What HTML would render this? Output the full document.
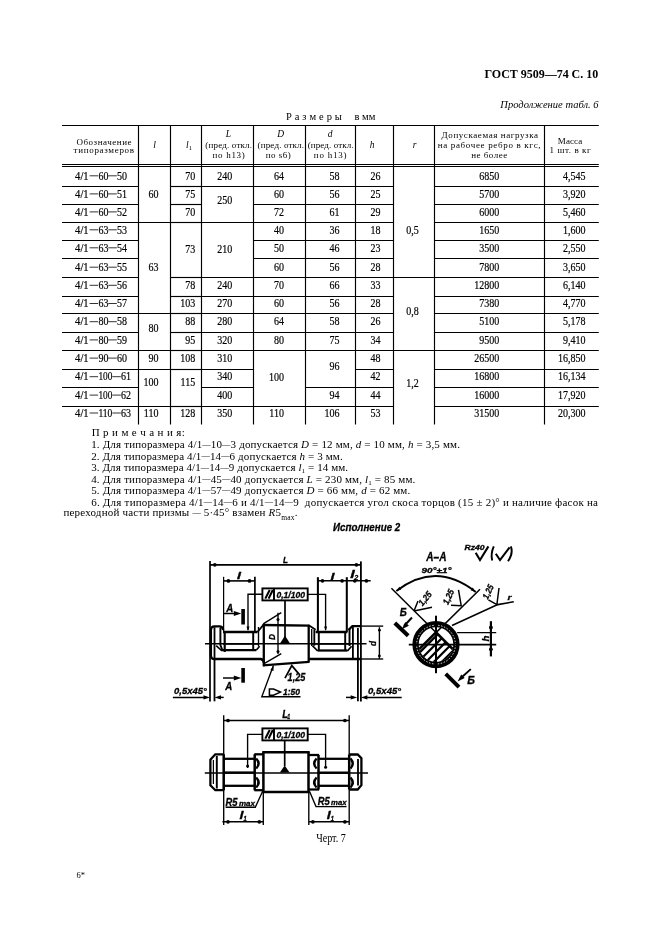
<!DOCTYPE html>
<html><head><meta charset="utf-8"><style>
html,body{margin:0;padding:0;background:#fff;}
svg{display:block;will-change:transform;}
text{font-family:"Liberation Serif", serif;fill:#000;} text.b{stroke:#000;stroke-width:0.2px;} text.n{stroke:none;} text.d{font-family:"Liberation Sans", sans-serif;font-weight:bold;font-style:italic;stroke:#000;stroke-width:0.3px;}
</style></head><body>
<svg width="661" height="936" viewBox="0 0 661 936">
<g stroke="#000" stroke-width="1.15" fill="none"><line x1="62" y1="125.5" x2="598.8" y2="125.5"/><line x1="62" y1="164.5" x2="598.8" y2="164.5"/><line x1="62" y1="166.5" x2="598.8" y2="166.5"/><line x1="138.5" y1="125.5" x2="138.5" y2="424.6"/><line x1="170.5" y1="125.5" x2="170.5" y2="424.6"/><line x1="201.5" y1="125.5" x2="201.5" y2="424.6"/><line x1="253.5" y1="125.5" x2="253.5" y2="424.6"/><line x1="305.5" y1="125.5" x2="305.5" y2="424.6"/><line x1="355.5" y1="125.5" x2="355.5" y2="424.6"/><line x1="393.5" y1="125.5" x2="393.5" y2="424.6"/><line x1="434.5" y1="125.5" x2="434.5" y2="424.6"/><line x1="544.5" y1="125.5" x2="544.5" y2="424.6"/><line x1="62" y1="186.5" x2="138.7" y2="186.5"/><line x1="62" y1="204.5" x2="138.7" y2="204.5"/><line x1="62" y1="222.5" x2="138.7" y2="222.5"/><line x1="62" y1="240.5" x2="138.7" y2="240.5"/><line x1="62" y1="258.5" x2="138.7" y2="258.5"/><line x1="62" y1="277.5" x2="138.7" y2="277.5"/><line x1="62" y1="296.5" x2="138.7" y2="296.5"/><line x1="62" y1="313.5" x2="138.7" y2="313.5"/><line x1="62" y1="332.5" x2="138.7" y2="332.5"/><line x1="62" y1="350.5" x2="138.7" y2="350.5"/><line x1="62" y1="369.5" x2="138.7" y2="369.5"/><line x1="62" y1="387.5" x2="138.7" y2="387.5"/><line x1="62" y1="406.5" x2="138.7" y2="406.5"/><line x1="355.9" y1="186.5" x2="393.6" y2="186.5"/><line x1="355.9" y1="204.5" x2="393.6" y2="204.5"/><line x1="355.9" y1="222.5" x2="393.6" y2="222.5"/><line x1="355.9" y1="240.5" x2="393.6" y2="240.5"/><line x1="355.9" y1="258.5" x2="393.6" y2="258.5"/><line x1="355.9" y1="277.5" x2="393.6" y2="277.5"/><line x1="355.9" y1="296.5" x2="393.6" y2="296.5"/><line x1="355.9" y1="313.5" x2="393.6" y2="313.5"/><line x1="355.9" y1="332.5" x2="393.6" y2="332.5"/><line x1="355.9" y1="350.5" x2="393.6" y2="350.5"/><line x1="355.9" y1="369.5" x2="393.6" y2="369.5"/><line x1="355.9" y1="387.5" x2="393.6" y2="387.5"/><line x1="355.9" y1="406.5" x2="393.6" y2="406.5"/><line x1="434.6" y1="186.5" x2="544.4" y2="186.5"/><line x1="434.6" y1="204.5" x2="544.4" y2="204.5"/><line x1="434.6" y1="222.5" x2="544.4" y2="222.5"/><line x1="434.6" y1="240.5" x2="544.4" y2="240.5"/><line x1="434.6" y1="258.5" x2="544.4" y2="258.5"/><line x1="434.6" y1="277.5" x2="544.4" y2="277.5"/><line x1="434.6" y1="296.5" x2="544.4" y2="296.5"/><line x1="434.6" y1="313.5" x2="544.4" y2="313.5"/><line x1="434.6" y1="332.5" x2="544.4" y2="332.5"/><line x1="434.6" y1="350.5" x2="544.4" y2="350.5"/><line x1="434.6" y1="369.5" x2="544.4" y2="369.5"/><line x1="434.6" y1="387.5" x2="544.4" y2="387.5"/><line x1="434.6" y1="406.5" x2="544.4" y2="406.5"/><line x1="544.4" y1="186.5" x2="598.8" y2="186.5"/><line x1="544.4" y1="204.5" x2="598.8" y2="204.5"/><line x1="544.4" y1="222.5" x2="598.8" y2="222.5"/><line x1="544.4" y1="240.5" x2="598.8" y2="240.5"/><line x1="544.4" y1="258.5" x2="598.8" y2="258.5"/><line x1="544.4" y1="277.5" x2="598.8" y2="277.5"/><line x1="544.4" y1="296.5" x2="598.8" y2="296.5"/><line x1="544.4" y1="313.5" x2="598.8" y2="313.5"/><line x1="544.4" y1="332.5" x2="598.8" y2="332.5"/><line x1="544.4" y1="350.5" x2="598.8" y2="350.5"/><line x1="544.4" y1="369.5" x2="598.8" y2="369.5"/><line x1="544.4" y1="387.5" x2="598.8" y2="387.5"/><line x1="544.4" y1="406.5" x2="598.8" y2="406.5"/><line x1="138.7" y1="222.5" x2="170.7" y2="222.5"/><line x1="138.7" y1="313.5" x2="170.7" y2="313.5"/><line x1="138.7" y1="350.5" x2="170.7" y2="350.5"/><line x1="138.7" y1="369.5" x2="170.7" y2="369.5"/><line x1="138.7" y1="406.5" x2="170.7" y2="406.5"/><line x1="170.7" y1="186.5" x2="201.6" y2="186.5"/><line x1="170.7" y1="204.5" x2="201.6" y2="204.5"/><line x1="170.7" y1="222.5" x2="201.6" y2="222.5"/><line x1="170.7" y1="277.5" x2="201.6" y2="277.5"/><line x1="170.7" y1="296.5" x2="201.6" y2="296.5"/><line x1="170.7" y1="313.5" x2="201.6" y2="313.5"/><line x1="170.7" y1="332.5" x2="201.6" y2="332.5"/><line x1="170.7" y1="350.5" x2="201.6" y2="350.5"/><line x1="170.7" y1="369.5" x2="201.6" y2="369.5"/><line x1="170.7" y1="406.5" x2="201.6" y2="406.5"/><line x1="201.6" y1="186.5" x2="253.8" y2="186.5"/><line x1="201.6" y1="222.5" x2="253.8" y2="222.5"/><line x1="201.6" y1="277.5" x2="253.8" y2="277.5"/><line x1="201.6" y1="296.5" x2="253.8" y2="296.5"/><line x1="201.6" y1="313.5" x2="253.8" y2="313.5"/><line x1="201.6" y1="332.5" x2="253.8" y2="332.5"/><line x1="201.6" y1="350.5" x2="253.8" y2="350.5"/><line x1="201.6" y1="369.5" x2="253.8" y2="369.5"/><line x1="201.6" y1="387.5" x2="253.8" y2="387.5"/><line x1="201.6" y1="406.5" x2="253.8" y2="406.5"/><line x1="253.8" y1="186.5" x2="305.5" y2="186.5"/><line x1="253.8" y1="204.5" x2="305.5" y2="204.5"/><line x1="253.8" y1="222.5" x2="305.5" y2="222.5"/><line x1="253.8" y1="240.5" x2="305.5" y2="240.5"/><line x1="253.8" y1="258.5" x2="305.5" y2="258.5"/><line x1="253.8" y1="277.5" x2="305.5" y2="277.5"/><line x1="253.8" y1="296.5" x2="305.5" y2="296.5"/><line x1="253.8" y1="313.5" x2="305.5" y2="313.5"/><line x1="253.8" y1="332.5" x2="305.5" y2="332.5"/><line x1="253.8" y1="350.5" x2="305.5" y2="350.5"/><line x1="253.8" y1="406.5" x2="305.5" y2="406.5"/><line x1="305.5" y1="186.5" x2="355.9" y2="186.5"/><line x1="305.5" y1="204.5" x2="355.9" y2="204.5"/><line x1="305.5" y1="222.5" x2="355.9" y2="222.5"/><line x1="305.5" y1="240.5" x2="355.9" y2="240.5"/><line x1="305.5" y1="258.5" x2="355.9" y2="258.5"/><line x1="305.5" y1="277.5" x2="355.9" y2="277.5"/><line x1="305.5" y1="296.5" x2="355.9" y2="296.5"/><line x1="305.5" y1="313.5" x2="355.9" y2="313.5"/><line x1="305.5" y1="332.5" x2="355.9" y2="332.5"/><line x1="305.5" y1="350.5" x2="355.9" y2="350.5"/><line x1="305.5" y1="387.5" x2="355.9" y2="387.5"/><line x1="305.5" y1="406.5" x2="355.9" y2="406.5"/><line x1="393.6" y1="277.5" x2="434.6" y2="277.5"/><line x1="393.6" y1="350.5" x2="434.6" y2="350.5"/></g>
<g stroke="#000" stroke-width="0.8" fill="none"><line x1="89.6" y1="175.8" x2="98.1" y2="175.8"/><line x1="108.3" y1="175.8" x2="116.8" y2="175.8"/><line x1="89.6" y1="193.9" x2="98.1" y2="193.9"/><line x1="108.3" y1="193.9" x2="116.8" y2="193.9"/><line x1="89.6" y1="211.9" x2="98.1" y2="211.9"/><line x1="108.3" y1="211.9" x2="116.8" y2="211.9"/><line x1="89.6" y1="229.8" x2="98.1" y2="229.8"/><line x1="108.3" y1="229.8" x2="116.8" y2="229.8"/><line x1="89.6" y1="247.8" x2="98.1" y2="247.8"/><line x1="108.3" y1="247.8" x2="116.8" y2="247.8"/><line x1="89.6" y1="267.2" x2="98.1" y2="267.2"/><line x1="108.3" y1="267.2" x2="116.8" y2="267.2"/><line x1="89.6" y1="285.3" x2="98.1" y2="285.3"/><line x1="108.3" y1="285.3" x2="116.8" y2="285.3"/><line x1="89.6" y1="303.5" x2="98.1" y2="303.5"/><line x1="108.3" y1="303.5" x2="116.8" y2="303.5"/><line x1="89.6" y1="321.7" x2="98.1" y2="321.7"/><line x1="108.3" y1="321.7" x2="116.8" y2="321.7"/><line x1="89.6" y1="339.9" x2="98.1" y2="339.9"/><line x1="108.3" y1="339.9" x2="116.8" y2="339.9"/><line x1="89.6" y1="358.1" x2="98.1" y2="358.1"/><line x1="108.3" y1="358.1" x2="116.8" y2="358.1"/><line x1="89.6" y1="376.7" x2="98.1" y2="376.7"/><line x1="112.3" y1="376.7" x2="120.8" y2="376.7"/><line x1="89.6" y1="395.1" x2="98.1" y2="395.1"/><line x1="112.3" y1="395.1" x2="120.8" y2="395.1"/><line x1="89.6" y1="413.0" x2="98.1" y2="413.0"/><line x1="112.3" y1="413.0" x2="120.8" y2="413.0"/></g>
<text x="598.2" y="78" font-size="12" text-anchor="end" textLength="113.8" lengthAdjust="spacing" font-weight="bold">ГОСТ 9509—74 С. 10</text><text x="598.6" y="107.7" font-size="10.5" text-anchor="end" textLength="98.3" lengthAdjust="spacing" font-style="italic">Продолжение табл. 6</text><text x="285.9" y="120.2" font-size="10.5" textLength="56" lengthAdjust="spacing">Р а з м е р ы</text><text x="354.4" y="120.2" font-size="10.5" textLength="21.1" lengthAdjust="spacing">в мм</text><text x="76.4" y="144.5" font-size="9" textLength="55.1" lengthAdjust="spacing">Обозначение</text><text x="73.6" y="153.4" font-size="9" textLength="60.4" lengthAdjust="spacing">типоразмеров</text><text x="154.5" y="148" font-size="9.5" text-anchor="middle" font-style="italic">l</text><text x="186" y="148" font-size="9.5" font-style="italic">l<tspan font-size="6.5" font-style="normal" dy="2">1</tspan></text><text x="228.5" y="136.9" font-size="9.5" text-anchor="middle" font-style="italic">L</text><text x="280.7" y="136.9" font-size="9.5" text-anchor="middle" font-style="italic">D</text><text x="330.2" y="136.9" font-size="9.5" text-anchor="middle" font-style="italic">d</text><text x="205.3" y="147.8" font-size="9" textLength="46.7" lengthAdjust="spacing">(пред. откл.</text><text x="257.6" y="147.8" font-size="9" textLength="46.4" lengthAdjust="spacing">(пред. откл.</text><text x="307.7" y="147.8" font-size="9" textLength="46.0" lengthAdjust="spacing">(пред. откл.</text><text x="212.6" y="157.5" font-size="9" textLength="32.2" lengthAdjust="spacing">по h13)</text><text x="265.8" y="157.5" font-size="9" textLength="25" lengthAdjust="spacing">по s6)</text><text x="313.8" y="157.5" font-size="9" textLength="32.7" lengthAdjust="spacing">по h13)</text><text x="372" y="148" font-size="9.5" text-anchor="middle" font-style="italic">h</text><text x="414.5" y="148" font-size="9.5" text-anchor="middle" font-style="italic">r</text><text x="441.6" y="137.6" font-size="9" textLength="96.4" lengthAdjust="spacing">Допускаемая нагрузка</text><text x="437.7" y="147.9" font-size="9" textLength="102.9" lengthAdjust="spacing">на рабочее ребро в кгс,</text><text x="471.2" y="157.6" font-size="9" textLength="36" lengthAdjust="spacing">не более</text><text x="557.8" y="144" font-size="9" textLength="24.5" lengthAdjust="spacing">Масса</text><text x="549.6" y="153" font-size="9" textLength="41.1" lengthAdjust="spacing">1 шт. в кг</text><text x="75.1" y="179.5" font-size="11.5" textLength="13.6" lengthAdjust="spacingAndGlyphs" class="b">4/1</text><text x="98.39999999999999" y="179.5" font-size="11.5" textLength="10.0" lengthAdjust="spacingAndGlyphs" class="b">60</text><text x="117.1" y="179.5" font-size="11.5" textLength="10.0" lengthAdjust="spacingAndGlyphs" class="b">50</text><text x="75.1" y="197.6" font-size="11.5" textLength="13.6" lengthAdjust="spacingAndGlyphs" class="b">4/1</text><text x="98.39999999999999" y="197.6" font-size="11.5" textLength="10.0" lengthAdjust="spacingAndGlyphs" class="b">60</text><text x="117.1" y="197.6" font-size="11.5" textLength="10.0" lengthAdjust="spacingAndGlyphs" class="b">51</text><text x="75.1" y="215.6" font-size="11.5" textLength="13.6" lengthAdjust="spacingAndGlyphs" class="b">4/1</text><text x="98.39999999999999" y="215.6" font-size="11.5" textLength="10.0" lengthAdjust="spacingAndGlyphs" class="b">60</text><text x="117.1" y="215.6" font-size="11.5" textLength="10.0" lengthAdjust="spacingAndGlyphs" class="b">52</text><text x="75.1" y="233.5" font-size="11.5" textLength="13.6" lengthAdjust="spacingAndGlyphs" class="b">4/1</text><text x="98.39999999999999" y="233.5" font-size="11.5" textLength="10.0" lengthAdjust="spacingAndGlyphs" class="b">63</text><text x="117.1" y="233.5" font-size="11.5" textLength="10.0" lengthAdjust="spacingAndGlyphs" class="b">53</text><text x="75.1" y="251.5" font-size="11.5" textLength="13.6" lengthAdjust="spacingAndGlyphs" class="b">4/1</text><text x="98.39999999999999" y="251.5" font-size="11.5" textLength="10.0" lengthAdjust="spacingAndGlyphs" class="b">63</text><text x="117.1" y="251.5" font-size="11.5" textLength="10.0" lengthAdjust="spacingAndGlyphs" class="b">54</text><text x="75.1" y="270.9" font-size="11.5" textLength="13.6" lengthAdjust="spacingAndGlyphs" class="b">4/1</text><text x="98.39999999999999" y="270.9" font-size="11.5" textLength="10.0" lengthAdjust="spacingAndGlyphs" class="b">63</text><text x="117.1" y="270.9" font-size="11.5" textLength="10.0" lengthAdjust="spacingAndGlyphs" class="b">55</text><text x="75.1" y="289" font-size="11.5" textLength="13.6" lengthAdjust="spacingAndGlyphs" class="b">4/1</text><text x="98.39999999999999" y="289" font-size="11.5" textLength="10.0" lengthAdjust="spacingAndGlyphs" class="b">63</text><text x="117.1" y="289" font-size="11.5" textLength="10.0" lengthAdjust="spacingAndGlyphs" class="b">56</text><text x="75.1" y="307.2" font-size="11.5" textLength="13.6" lengthAdjust="spacingAndGlyphs" class="b">4/1</text><text x="98.39999999999999" y="307.2" font-size="11.5" textLength="10.0" lengthAdjust="spacingAndGlyphs" class="b">63</text><text x="117.1" y="307.2" font-size="11.5" textLength="10.0" lengthAdjust="spacingAndGlyphs" class="b">57</text><text x="75.1" y="325.4" font-size="11.5" textLength="13.6" lengthAdjust="spacingAndGlyphs" class="b">4/1</text><text x="98.39999999999999" y="325.4" font-size="11.5" textLength="10.0" lengthAdjust="spacingAndGlyphs" class="b">80</text><text x="117.1" y="325.4" font-size="11.5" textLength="10.0" lengthAdjust="spacingAndGlyphs" class="b">58</text><text x="75.1" y="343.6" font-size="11.5" textLength="13.6" lengthAdjust="spacingAndGlyphs" class="b">4/1</text><text x="98.39999999999999" y="343.6" font-size="11.5" textLength="10.0" lengthAdjust="spacingAndGlyphs" class="b">80</text><text x="117.1" y="343.6" font-size="11.5" textLength="10.0" lengthAdjust="spacingAndGlyphs" class="b">59</text><text x="75.1" y="361.8" font-size="11.5" textLength="13.6" lengthAdjust="spacingAndGlyphs" class="b">4/1</text><text x="98.39999999999999" y="361.8" font-size="11.5" textLength="10.0" lengthAdjust="spacingAndGlyphs" class="b">90</text><text x="117.1" y="361.8" font-size="11.5" textLength="10.0" lengthAdjust="spacingAndGlyphs" class="b">60</text><text x="75.1" y="380.4" font-size="11.5" textLength="13.6" lengthAdjust="spacingAndGlyphs" class="b">4/1</text><text x="98.39999999999999" y="380.4" font-size="11.5" textLength="14.0" lengthAdjust="spacingAndGlyphs" class="b">100</text><text x="121.1" y="380.4" font-size="11.5" textLength="10.0" lengthAdjust="spacingAndGlyphs" class="b">61</text><text x="75.1" y="398.8" font-size="11.5" textLength="13.6" lengthAdjust="spacingAndGlyphs" class="b">4/1</text><text x="98.39999999999999" y="398.8" font-size="11.5" textLength="14.0" lengthAdjust="spacingAndGlyphs" class="b">100</text><text x="121.1" y="398.8" font-size="11.5" textLength="10.0" lengthAdjust="spacingAndGlyphs" class="b">62</text><text x="75.1" y="416.7" font-size="11.5" textLength="13.6" lengthAdjust="spacingAndGlyphs" class="b">4/1</text><text x="98.39999999999999" y="416.7" font-size="11.5" textLength="14.0" lengthAdjust="spacingAndGlyphs" class="b">110</text><text x="121.1" y="416.7" font-size="11.5" textLength="10.0" lengthAdjust="spacingAndGlyphs" class="b">63</text><text x="158.5" y="198" font-size="11.5" text-anchor="end" textLength="10.01" lengthAdjust="spacingAndGlyphs" class="b">60</text><text x="158.5" y="271.2" font-size="11.5" text-anchor="end" textLength="10.01" lengthAdjust="spacingAndGlyphs" class="b">63</text><text x="158.5" y="331.8" font-size="11.5" text-anchor="end" textLength="10.01" lengthAdjust="spacingAndGlyphs" class="b">80</text><text x="158.5" y="361.7" font-size="11.5" text-anchor="end" textLength="10.01" lengthAdjust="spacingAndGlyphs" class="b">90</text><text x="158.5" y="386.2" font-size="11.5" text-anchor="end" textLength="15.01" lengthAdjust="spacingAndGlyphs" class="b">100</text><text x="158.5" y="416.7" font-size="11.5" text-anchor="end" textLength="14.64" lengthAdjust="spacingAndGlyphs" class="b">110</text><text x="195.2" y="179.5" font-size="11.5" text-anchor="end" textLength="10.01" lengthAdjust="spacingAndGlyphs" class="b">70</text><text x="195.2" y="197.6" font-size="11.5" text-anchor="end" textLength="10.01" lengthAdjust="spacingAndGlyphs" class="b">75</text><text x="195.2" y="215.6" font-size="11.5" text-anchor="end" textLength="10.01" lengthAdjust="spacingAndGlyphs" class="b">70</text><text x="195.2" y="289" font-size="11.5" text-anchor="end" textLength="10.01" lengthAdjust="spacingAndGlyphs" class="b">78</text><text x="195.2" y="307.2" font-size="11.5" text-anchor="end" textLength="15.01" lengthAdjust="spacingAndGlyphs" class="b">103</text><text x="195.2" y="325.4" font-size="11.5" text-anchor="end" textLength="10.01" lengthAdjust="spacingAndGlyphs" class="b">88</text><text x="195.2" y="343.6" font-size="11.5" text-anchor="end" textLength="10.01" lengthAdjust="spacingAndGlyphs" class="b">95</text><text x="195.2" y="361.8" font-size="11.5" text-anchor="end" textLength="15.01" lengthAdjust="spacingAndGlyphs" class="b">108</text><text x="195.2" y="416.7" font-size="11.5" text-anchor="end" textLength="15.01" lengthAdjust="spacingAndGlyphs" class="b">128</text><text x="195.2" y="253" font-size="11.5" text-anchor="end" textLength="10.01" lengthAdjust="spacingAndGlyphs" class="b">73</text><text x="195.2" y="386.2" font-size="11.5" text-anchor="end" textLength="14.64" lengthAdjust="spacingAndGlyphs" class="b">115</text><text x="224.8" y="179.5" font-size="11.5" text-anchor="middle" textLength="15.01" lengthAdjust="spacingAndGlyphs" class="b">240</text><text x="224.8" y="289" font-size="11.5" text-anchor="middle" textLength="15.01" lengthAdjust="spacingAndGlyphs" class="b">240</text><text x="224.8" y="307.2" font-size="11.5" text-anchor="middle" textLength="15.01" lengthAdjust="spacingAndGlyphs" class="b">270</text><text x="224.8" y="325.4" font-size="11.5" text-anchor="middle" textLength="15.01" lengthAdjust="spacingAndGlyphs" class="b">280</text><text x="224.8" y="343.6" font-size="11.5" text-anchor="middle" textLength="15.01" lengthAdjust="spacingAndGlyphs" class="b">320</text><text x="224.8" y="361.8" font-size="11.5" text-anchor="middle" textLength="15.01" lengthAdjust="spacingAndGlyphs" class="b">310</text><text x="224.8" y="380.4" font-size="11.5" text-anchor="middle" textLength="15.01" lengthAdjust="spacingAndGlyphs" class="b">340</text><text x="224.8" y="398.8" font-size="11.5" text-anchor="middle" textLength="15.01" lengthAdjust="spacingAndGlyphs" class="b">400</text><text x="224.8" y="416.7" font-size="11.5" text-anchor="middle" textLength="15.01" lengthAdjust="spacingAndGlyphs" class="b">350</text><text x="224.8" y="204" font-size="11.5" text-anchor="middle" textLength="15.01" lengthAdjust="spacingAndGlyphs" class="b">250</text><text x="224.8" y="253" font-size="11.5" text-anchor="middle" textLength="15.01" lengthAdjust="spacingAndGlyphs" class="b">210</text><text x="284" y="179.5" font-size="11.5" text-anchor="end" textLength="10.01" lengthAdjust="spacingAndGlyphs" class="b">64</text><text x="284" y="197.6" font-size="11.5" text-anchor="end" textLength="10.01" lengthAdjust="spacingAndGlyphs" class="b">60</text><text x="284" y="215.6" font-size="11.5" text-anchor="end" textLength="10.01" lengthAdjust="spacingAndGlyphs" class="b">72</text><text x="284" y="233.5" font-size="11.5" text-anchor="end" textLength="10.01" lengthAdjust="spacingAndGlyphs" class="b">40</text><text x="284" y="251.5" font-size="11.5" text-anchor="end" textLength="10.01" lengthAdjust="spacingAndGlyphs" class="b">50</text><text x="284" y="270.9" font-size="11.5" text-anchor="end" textLength="10.01" lengthAdjust="spacingAndGlyphs" class="b">60</text><text x="284" y="289" font-size="11.5" text-anchor="end" textLength="10.01" lengthAdjust="spacingAndGlyphs" class="b">70</text><text x="284" y="307.2" font-size="11.5" text-anchor="end" textLength="10.01" lengthAdjust="spacingAndGlyphs" class="b">60</text><text x="284" y="325.4" font-size="11.5" text-anchor="end" textLength="10.01" lengthAdjust="spacingAndGlyphs" class="b">64</text><text x="284" y="343.6" font-size="11.5" text-anchor="end" textLength="10.01" lengthAdjust="spacingAndGlyphs" class="b">80</text><text x="284" y="380.6" font-size="11.5" text-anchor="end" textLength="15.01" lengthAdjust="spacingAndGlyphs" class="b">100</text><text x="284" y="416.7" font-size="11.5" text-anchor="end" textLength="14.64" lengthAdjust="spacingAndGlyphs" class="b">110</text><text x="339.5" y="179.5" font-size="11.5" text-anchor="end" textLength="10.01" lengthAdjust="spacingAndGlyphs" class="b">58</text><text x="339.5" y="197.6" font-size="11.5" text-anchor="end" textLength="10.01" lengthAdjust="spacingAndGlyphs" class="b">56</text><text x="339.5" y="215.6" font-size="11.5" text-anchor="end" textLength="10.01" lengthAdjust="spacingAndGlyphs" class="b">61</text><text x="339.5" y="233.5" font-size="11.5" text-anchor="end" textLength="10.01" lengthAdjust="spacingAndGlyphs" class="b">36</text><text x="339.5" y="251.5" font-size="11.5" text-anchor="end" textLength="10.01" lengthAdjust="spacingAndGlyphs" class="b">46</text><text x="339.5" y="270.9" font-size="11.5" text-anchor="end" textLength="10.01" lengthAdjust="spacingAndGlyphs" class="b">56</text><text x="339.5" y="289" font-size="11.5" text-anchor="end" textLength="10.01" lengthAdjust="spacingAndGlyphs" class="b">66</text><text x="339.5" y="307.2" font-size="11.5" text-anchor="end" textLength="10.01" lengthAdjust="spacingAndGlyphs" class="b">56</text><text x="339.5" y="325.4" font-size="11.5" text-anchor="end" textLength="10.01" lengthAdjust="spacingAndGlyphs" class="b">58</text><text x="339.5" y="343.6" font-size="11.5" text-anchor="end" textLength="10.01" lengthAdjust="spacingAndGlyphs" class="b">75</text><text x="339.5" y="369.5" font-size="11.5" text-anchor="end" textLength="10.01" lengthAdjust="spacingAndGlyphs" class="b">96</text><text x="339.5" y="398.8" font-size="11.5" text-anchor="end" textLength="10.01" lengthAdjust="spacingAndGlyphs" class="b">94</text><text x="339.5" y="416.7" font-size="11.5" text-anchor="end" textLength="15.01" lengthAdjust="spacingAndGlyphs" class="b">106</text><text x="375.5" y="179.5" font-size="11.5" text-anchor="middle" textLength="10.01" lengthAdjust="spacingAndGlyphs" class="b">26</text><text x="375.5" y="197.6" font-size="11.5" text-anchor="middle" textLength="10.01" lengthAdjust="spacingAndGlyphs" class="b">25</text><text x="375.5" y="215.6" font-size="11.5" text-anchor="middle" textLength="10.01" lengthAdjust="spacingAndGlyphs" class="b">29</text><text x="375.5" y="233.5" font-size="11.5" text-anchor="middle" textLength="10.01" lengthAdjust="spacingAndGlyphs" class="b">18</text><text x="375.5" y="251.5" font-size="11.5" text-anchor="middle" textLength="10.01" lengthAdjust="spacingAndGlyphs" class="b">23</text><text x="375.5" y="270.9" font-size="11.5" text-anchor="middle" textLength="10.01" lengthAdjust="spacingAndGlyphs" class="b">28</text><text x="375.5" y="289" font-size="11.5" text-anchor="middle" textLength="10.01" lengthAdjust="spacingAndGlyphs" class="b">33</text><text x="375.5" y="307.2" font-size="11.5" text-anchor="middle" textLength="10.01" lengthAdjust="spacingAndGlyphs" class="b">28</text><text x="375.5" y="325.4" font-size="11.5" text-anchor="middle" textLength="10.01" lengthAdjust="spacingAndGlyphs" class="b">26</text><text x="375.5" y="343.6" font-size="11.5" text-anchor="middle" textLength="10.01" lengthAdjust="spacingAndGlyphs" class="b">34</text><text x="375.5" y="361.8" font-size="11.5" text-anchor="middle" textLength="10.01" lengthAdjust="spacingAndGlyphs" class="b">48</text><text x="375.5" y="380.4" font-size="11.5" text-anchor="middle" textLength="10.01" lengthAdjust="spacingAndGlyphs" class="b">42</text><text x="375.5" y="398.8" font-size="11.5" text-anchor="middle" textLength="10.01" lengthAdjust="spacingAndGlyphs" class="b">44</text><text x="375.5" y="416.7" font-size="11.5" text-anchor="middle" textLength="10.01" lengthAdjust="spacingAndGlyphs" class="b">53</text><text x="412.5" y="234" font-size="11.5" text-anchor="middle" textLength="12.51" lengthAdjust="spacingAndGlyphs" class="b">0,5</text><text x="412.5" y="314.5" font-size="11.5" text-anchor="middle" textLength="12.51" lengthAdjust="spacingAndGlyphs" class="b">0,8</text><text x="412.5" y="387" font-size="11.5" text-anchor="middle" textLength="12.51" lengthAdjust="spacingAndGlyphs" class="b">1,2</text><text x="499.3" y="179.5" font-size="11.5" text-anchor="end" textLength="20.01" lengthAdjust="spacingAndGlyphs" class="b">6850</text><text x="499.3" y="197.6" font-size="11.5" text-anchor="end" textLength="20.01" lengthAdjust="spacingAndGlyphs" class="b">5700</text><text x="499.3" y="215.6" font-size="11.5" text-anchor="end" textLength="20.01" lengthAdjust="spacingAndGlyphs" class="b">6000</text><text x="499.3" y="233.5" font-size="11.5" text-anchor="end" textLength="20.01" lengthAdjust="spacingAndGlyphs" class="b">1650</text><text x="499.3" y="251.5" font-size="11.5" text-anchor="end" textLength="20.01" lengthAdjust="spacingAndGlyphs" class="b">3500</text><text x="499.3" y="270.9" font-size="11.5" text-anchor="end" textLength="20.01" lengthAdjust="spacingAndGlyphs" class="b">7800</text><text x="499.3" y="289" font-size="11.5" text-anchor="end" textLength="25.01" lengthAdjust="spacingAndGlyphs" class="b">12800</text><text x="499.3" y="307.2" font-size="11.5" text-anchor="end" textLength="20.01" lengthAdjust="spacingAndGlyphs" class="b">7380</text><text x="499.3" y="325.4" font-size="11.5" text-anchor="end" textLength="20.01" lengthAdjust="spacingAndGlyphs" class="b">5100</text><text x="499.3" y="343.6" font-size="11.5" text-anchor="end" textLength="20.01" lengthAdjust="spacingAndGlyphs" class="b">9500</text><text x="499.3" y="361.8" font-size="11.5" text-anchor="end" textLength="25.01" lengthAdjust="spacingAndGlyphs" class="b">26500</text><text x="499.3" y="380.4" font-size="11.5" text-anchor="end" textLength="25.01" lengthAdjust="spacingAndGlyphs" class="b">16800</text><text x="499.3" y="398.8" font-size="11.5" text-anchor="end" textLength="25.01" lengthAdjust="spacingAndGlyphs" class="b">16000</text><text x="499.3" y="416.7" font-size="11.5" text-anchor="end" textLength="25.01" lengthAdjust="spacingAndGlyphs" class="b">31500</text><text x="585.6" y="179.5" font-size="11.5" text-anchor="end" textLength="22.51" lengthAdjust="spacingAndGlyphs" class="b">4,545</text><text x="585.6" y="197.6" font-size="11.5" text-anchor="end" textLength="22.51" lengthAdjust="spacingAndGlyphs" class="b">3,920</text><text x="585.6" y="215.6" font-size="11.5" text-anchor="end" textLength="22.51" lengthAdjust="spacingAndGlyphs" class="b">5,460</text><text x="585.6" y="233.5" font-size="11.5" text-anchor="end" textLength="22.51" lengthAdjust="spacingAndGlyphs" class="b">1,600</text><text x="585.6" y="251.5" font-size="11.5" text-anchor="end" textLength="22.51" lengthAdjust="spacingAndGlyphs" class="b">2,550</text><text x="585.6" y="270.9" font-size="11.5" text-anchor="end" textLength="22.51" lengthAdjust="spacingAndGlyphs" class="b">3,650</text><text x="585.6" y="289" font-size="11.5" text-anchor="end" textLength="22.51" lengthAdjust="spacingAndGlyphs" class="b">6,140</text><text x="585.6" y="307.2" font-size="11.5" text-anchor="end" textLength="22.51" lengthAdjust="spacingAndGlyphs" class="b">4,770</text><text x="585.6" y="325.4" font-size="11.5" text-anchor="end" textLength="22.51" lengthAdjust="spacingAndGlyphs" class="b">5,178</text><text x="585.6" y="343.6" font-size="11.5" text-anchor="end" textLength="22.51" lengthAdjust="spacingAndGlyphs" class="b">9,410</text><text x="585.6" y="361.8" font-size="11.5" text-anchor="end" textLength="27.51" lengthAdjust="spacingAndGlyphs" class="b">16,850</text><text x="585.6" y="380.4" font-size="11.5" text-anchor="end" textLength="27.51" lengthAdjust="spacingAndGlyphs" class="b">16,134</text><text x="585.6" y="398.8" font-size="11.5" text-anchor="end" textLength="27.51" lengthAdjust="spacingAndGlyphs" class="b">17,920</text><text x="585.6" y="416.7" font-size="11.5" text-anchor="end" textLength="27.51" lengthAdjust="spacingAndGlyphs" class="b">20,300</text><text x="91.7" y="435.9" font-size="11" textLength="93" lengthAdjust="spacing">П р и м е ч а н и я:</text><text class="n" x="91.2" y="448.0" font-size="11" textLength="368.7" lengthAdjust="spacing" xml:space="preserve">1. Для типоразмера 4/1<tspan font-size="8.3" dy="-1.5">—</tspan><tspan dy="1.5">1</tspan>0<tspan font-size="8.3" dy="-1.5">—</tspan><tspan dy="1.5">3</tspan> допускается <tspan font-style="italic">D</tspan> = 12 мм, <tspan font-style="italic">d</tspan> = 10 мм, <tspan font-style="italic">h</tspan> = 3,5 мм.</text><text class="n" x="91.2" y="459.7" font-size="11" textLength="251.5" lengthAdjust="spacing" xml:space="preserve">2. Для типоразмера 4/1<tspan font-size="8.3" dy="-1.5">—</tspan><tspan dy="1.5">1</tspan>4<tspan font-size="8.3" dy="-1.5">—</tspan><tspan dy="1.5">6</tspan> допускается <tspan font-style="italic">h</tspan> = 3 мм.</text><text class="n" x="91.2" y="471.0" font-size="11" textLength="256.9" lengthAdjust="spacing" xml:space="preserve">3. Для типоразмера 4/1<tspan font-size="8.3" dy="-1.5">—</tspan><tspan dy="1.5">1</tspan>4<tspan font-size="8.3" dy="-1.5">—</tspan><tspan dy="1.5">9</tspan> допускается <tspan font-style="italic">l</tspan><tspan font-size="7" dy="2">1</tspan><tspan dy="-2"> = 14 мм.</tspan></text><text class="n" x="91.2" y="482.5" font-size="11" textLength="324.1" lengthAdjust="spacing" xml:space="preserve">4. Для типоразмера 4/1<tspan font-size="8.3" dy="-1.5">—</tspan><tspan dy="1.5">4</tspan>5<tspan font-size="8.3" dy="-1.5">—</tspan><tspan dy="1.5">4</tspan>0 допускается <tspan font-style="italic">L</tspan> = 230 мм, <tspan font-style="italic">l</tspan><tspan font-size="7" dy="2">1</tspan><tspan dy="-2"> = 85 мм.</tspan></text><text class="n" x="91.2" y="493.7" font-size="11" textLength="319.0" lengthAdjust="spacing" xml:space="preserve">5. Для типоразмера 4/1<tspan font-size="8.3" dy="-1.5">—</tspan><tspan dy="1.5">5</tspan>7<tspan font-size="8.3" dy="-1.5">—</tspan><tspan dy="1.5">4</tspan>9 допускается <tspan font-style="italic">D</tspan> = 66 мм, <tspan font-style="italic">d</tspan> = 62 мм.</text><text class="n" x="91.2" y="505.5" font-size="11" textLength="506.8" lengthAdjust="spacing" xml:space="preserve">6. Для типоразмера 4/1<tspan font-size="8.3" dy="-1.5">—</tspan><tspan dy="1.5">1</tspan>4<tspan font-size="8.3" dy="-1.5">—</tspan><tspan dy="1.5">6</tspan> и 4/1<tspan font-size="8.3" dy="-1.5">—</tspan><tspan dy="1.5">1</tspan>4<tspan font-size="8.3" dy="-1.5">—</tspan><tspan dy="1.5">9</tspan>  допускается угол скоса торцов (15 ± 2)° и наличие фасок на</text><text class="n" x="63.4" y="516.4" font-size="11" textLength="234.1" lengthAdjust="spacing" xml:space="preserve">переходной части призмы <tspan font-size="8.3" dy="-1.5">—</tspan><tspan dy="1.5"> </tspan>5·45° взамен <tspan font-style="italic">R</tspan>5<tspan font-size="7.5" dy="3.6">max</tspan><tspan dy="-3.6">.</tspan></text><text class="d" x="333" y="530.6" font-size="11" textLength="67.2" lengthAdjust="spacingAndGlyphs">Исполнение 2</text><text x="316.2" y="841.6" font-size="11.5" textLength="29.6" lengthAdjust="spacingAndGlyphs">Черт. 7</text><text x="76.5" y="878" font-size="8.5">6*</text>
<g stroke="#000" fill="none" stroke-linecap="butt"><path d="M210,561 V701.5" stroke-width="1.71"/><path d="M360.9,561.4 V701.5" stroke-width="1.82"/><path d="M210,564.8 H360.9" stroke-width="1.82"/><circle cx="214.8" cy="564.8" r="1.85" fill="#000" stroke="none"/><circle cx="356.4" cy="564.8" r="1.85" fill="#000" stroke="none"/><text class="d" x="283" y="562.5" font-size="9" textLength="5" lengthAdjust="spacingAndGlyphs">L</text><path d="M223.6,576.8 V632" stroke-width="1.25"/><path d="M254.9,576.8 V632" stroke-width="1.71"/><path d="M223.6,580.9 H254.9" stroke-width="1.59"/><circle cx="228.4" cy="580.9" r="1.85" fill="#000" stroke="none"/><circle cx="249.5" cy="580.9" r="1.85" fill="#000" stroke="none"/><text class="d" x="237" y="578.8" font-size="9" textLength="4" lengthAdjust="spacingAndGlyphs">l</text><path d="M317.9,577.2 V632" stroke-width="2.05"/><path d="M346.8,577.2 V632" stroke-width="2.05"/><path d="M317.9,580.8 H370.7" stroke-width="1.59"/><circle cx="322.5" cy="580.8" r="1.85" fill="#000" stroke="none"/><circle cx="342.1" cy="580.8" r="1.85" fill="#000" stroke="none"/><circle cx="354.8" cy="580.8" r="1.85" fill="#000" stroke="none"/><circle cx="366.4" cy="580.8" r="1.85" fill="#000" stroke="none"/><text class="d" x="330.6" y="580.4" font-size="9" textLength="4" lengthAdjust="spacingAndGlyphs">l</text><text class="d" x="350.3" y="577.5" font-size="10.5" textLength="4.5" lengthAdjust="spacingAndGlyphs">l</text><text class="d" x="354.3" y="580" font-size="8" textLength="4" lengthAdjust="spacingAndGlyphs">2</text><rect x="262.4" y="588.4" width="45.3" height="12" stroke-width="1.9"/><path d="M274.0,588.4 V600.4" stroke-width="1.94"/><path d="M265.29999999999995,598.6 L269.7,590.0" stroke-width="2.05"/><path d="M268.59999999999997,598.6 L272.79999999999995,590.0" stroke-width="2.05"/><text class="d" x="276.4" y="597.8" font-size="9" textLength="28.6" lengthAdjust="spacingAndGlyphs">0,1/100</text><path d="M262.4,594.3 H248 V630" stroke-width="1.36"/><path d="M248.0,631.0 L246.5,626.5 L249.5,626.5 Z" fill="#000" stroke="none"/><path d="M307.8,594.4 H325.6 V630" stroke-width="1.36"/><path d="M325.6,631.0 L324.1,626.5 L327.1,626.5 Z" fill="#000" stroke="none"/><path d="M285,600.4 V637" stroke-width="1.71"/><path d="M279.8,643.8 L285,635.6 L290.2,643.8 Z" fill="#000" stroke="none"/><text class="d" x="226.3" y="611.7" font-size="10" textLength="7" lengthAdjust="spacingAndGlyphs">A</text><path d="M223.6,613.5 H236" stroke-width="1.48"/><path d="M241.3,613.5 L233.8,616.1 L233.8,610.9 Z" fill="#000" stroke="none"/><rect x="241.3" y="609" width="3.6" height="15.5" fill="#000" stroke="none"/><text class="d" x="225.2" y="689.8" font-size="10" textLength="7" lengthAdjust="spacingAndGlyphs">A</text><path d="M223,678 H236" stroke-width="1.48"/><path d="M241.3,678.0 L233.8,680.6 L233.8,675.4 Z" fill="#000" stroke="none"/><rect x="241.3" y="668" width="3.6" height="14.7" fill="#000" stroke="none"/><path d="M205,643.8 H366.5" stroke-width="1.36"/><path d="M172.9,697.4 H205" stroke-width="1.48"/><path d="M210.0,697.4 L203.5,699.6 L203.5,695.2 Z" fill="#000" stroke="none"/><path d="M219,697.4 H223.7" stroke-width="1.48"/><path d="M214.5,697.4 L221.0,695.2 L221.0,699.6 Z" fill="#000" stroke="none"/><text class="d" x="174.1" y="694" font-size="9.5" textLength="32.7" lengthAdjust="spacingAndGlyphs">0,5x45°</text><path d="M357.9,628 V701.3" stroke-width="1.82"/><path d="M346,697.4 H352" stroke-width="1.48"/><path d="M357.2,697.4 L350.7,699.6 L350.7,695.2 Z" fill="#000" stroke="none"/><path d="M365,697.4 H401.7" stroke-width="1.48"/><path d="M360.9,697.4 L367.4,695.2 L367.4,699.6 Z" fill="#000" stroke="none"/><text class="d" x="368" y="694" font-size="9.5" textLength="33.1" lengthAdjust="spacingAndGlyphs">0,5x45°</text><path d="M223.3,630 Q222.5,626.4 219.5,626.4 H214.5 Q210.9,626.4 210.9,630 V655.2 Q210.9,659 214.5,659 H260.7 Q263.8,659.5 263.8,663" stroke-width="2.28"/><path d="M214.5,627.2 V701.3" stroke-width="1.82"/><path d="M220.4,628 V645 L222.5,650.5" stroke-width="1.94"/><path d="M223,632 H257.5" stroke-width="2.28"/><path d="M222,650.2 H256.4" stroke-width="2.28"/><path d="M224.7,632 V652" stroke-width="2.17"/><path d="M253.2,632 V651" stroke-width="1.94"/><path d="M216.2,645.7 L222,651" stroke-width="1.59"/><path d="M256.4,650 L259.6,646.2" stroke-width="1.59"/><path d="M223,643.8 H258" stroke-width="1.82"/><path d="M311,643.8 H351" stroke-width="1.82"/><path d="M257.5,632 L264.4,623.6" stroke-width="1.82"/><path d="M258.5,627 V646.5" stroke-width="1.36"/><path d="M263.8,623.8 V666.2" stroke-width="2.28"/><path d="M262.9,625 L309.5,625.6" stroke-width="2.28"/><path d="M308.7,624.8 V662.7" stroke-width="2.28"/><path d="M262.9,665.4 L309,661.8" stroke-width="2.28"/><path d="M309.2,625.6 L315.6,629.8" stroke-width="1.82"/><path d="M311.7,629 V646" stroke-width="1.36"/><path d="M315.6,632 H347.4" stroke-width="2.28"/><path d="M317.7,650.5 H347.4" stroke-width="2.28"/><path d="M312.4,645.7 L317.7,651" stroke-width="1.71"/><path d="M347.4,651 L351.6,646.2" stroke-width="1.71"/><path d="M318.8,632 V650" stroke-width="1.94"/><path d="M345.2,632 V650" stroke-width="1.94"/><path d="M314.3,630 V645.7" stroke-width="1.82"/><path d="M349.5,629 V646" stroke-width="1.94"/><path d="M348.4,630 L352.4,626.1 H361" stroke-width="2.28"/><path d="M361,626.1 H383.2" stroke-width="1.36"/><path d="M308.5,659 H361" stroke-width="2.28"/><path d="M361,659 H383.2" stroke-width="1.36"/><path d="M352.9,627 V659" stroke-width="1.82"/><path d="M379.4,627.2 V659" stroke-width="1.36"/><circle cx="379.4" cy="630.2" r="1.4" fill="#000" stroke="none"/><circle cx="379.4" cy="656" r="1.4" fill="#000" stroke="none"/><text class="d" x="375.8" y="646" font-size="9" textLength="5" lengthAdjust="spacingAndGlyphs" transform="rotate(-90 375.8 646)">d</text><path d="M278,612.8 V654" stroke-width="1.36"/><circle cx="278" cy="619.5" r="1.5" fill="#000" stroke="none"/><circle cx="278" cy="651.5" r="1.5" fill="#000" stroke="none"/><path d="M263.6,623.6 L281.3,612.7" stroke-width="1.36"/><path d="M264.1,663.6 L281.3,653.6" stroke-width="1.36"/><text class="d" x="268" y="639" font-size="9" textLength="6" lengthAdjust="spacingAndGlyphs" transform="rotate(-90 272 636)">D</text><path d="M273.4,665.6 L261.8,696.8 H300.5" stroke-width="1.36"/><path d="M273.6,665.8 L273.5,671.0 L270.4,670.0 Z" fill="#000" stroke="none"/><path d="M269.4,689 H273.5 L280.5,692.1 L273.5,695.2 H269.4 Z" stroke-width="1.5"/><text class="d" x="283" y="695.2" font-size="9" textLength="17" lengthAdjust="spacingAndGlyphs">1:50</text><path d="M285,678.1 L291.8,665.6 L298.6,673.6" stroke-width="1.71"/><text class="d" x="287.6" y="681.4" font-size="11.5" textLength="17.8" lengthAdjust="spacingAndGlyphs">1,25</text><text class="d" x="426.3" y="560.6" font-size="12.5" textLength="20.2" lengthAdjust="spacingAndGlyphs">A–A</text><text class="d" x="421.4" y="573.4" font-size="8" textLength="30" lengthAdjust="spacingAndGlyphs">90°±1°</text><path d="M396.3,591.1 Q435.7,560.5 475.7,591.9" stroke-width="1.9"/><path d="M396.3,591.1 L399.3,586.7 L401.3,589.5 Z" fill="#000" stroke="none"/><path d="M475.7,591.9 L470.7,590.3 L472.7,587.5 Z" fill="#000" stroke="none"/><path d="M391.4,588.2 L436,632.6" stroke-width="1.48"/><path d="M480,589.2 L436,632.6" stroke-width="1.48"/><clipPath id="cp"><circle cx="436" cy="644.6" r="17.4"/></clipPath><clipPath id="cp2"><path d="M436,632.4 L510,706.4 H362 Z"/></clipPath><g clip-path="url(#cp)"><path clip-path="url(#cp2)" d="M332.6,700 L412.6,620M340.5,700 L420.5,620M348.4,700 L428.4,620M356.3,700 L436.3,620M364.2,700 L444.2,620M372.1,700 L452.1,620M380.0,700 L460.0,620M387.9,700 L467.9,620M395.8,700 L475.8,620M403.7,700 L483.7,620M411.6,700 L491.6,620M419.5,700 L499.5,620M427.4,700 L507.4,620M435.3,700 L515.3,620M443.2,700 L523.2,620M451.1,700 L531.1,620M459.0,700 L539.0,620M466.9,700 L546.9,620M474.8,700 L554.8,620M482.7,700 L562.7,620" stroke-width="2.2"/><path d="M418,650.4 L436,632.4 L454,650.4" stroke-width="2.6"/></g><circle cx="436" cy="644.6" r="20.45" stroke-width="6.3"/><circle cx="436" cy="644.6" r="19.4" stroke="#fff" stroke-width="0.9" stroke-dasharray="1.4 1.6"/><path d="M436,615.7 V673.2" stroke-width="2.05"/><path d="M408.8,644.7 H496.2" stroke-width="1.82"/><path d="M457.1,632.6 H496.2" stroke-width="1.36"/><path d="M490.9,621.2 V656.4" stroke-width="2.17"/><circle cx="490.9" cy="627.5" r="1.9" fill="#000" stroke="none"/><circle cx="490.9" cy="649.3" r="1.9" fill="#000" stroke="none"/><text class="d" x="486.2" y="641.7" font-size="9" textLength="6" lengthAdjust="spacingAndGlyphs" text-anchor="middle" transform="rotate(-90 486.2 638.6)">h</text><path d="M452,625.5 L497.7,604.6 L513.8,601.8" stroke-width="1.59"/><text class="d" x="507.5" y="600.4" font-size="8" textLength="4" lengthAdjust="spacingAndGlyphs">r</text><path d="M394.8,623 L408.2,635.7" stroke-width="4.01"/><path d="M404,626 L412,617.5" stroke-width="1.94"/><path d="M401.8,629.2 L405.3,622.1 L408.9,625.7 Z" fill="#000" stroke="none"/><text class="d" x="399.7" y="616.3" font-size="10" textLength="7" lengthAdjust="spacingAndGlyphs">Б</text><path d="M445.7,673.8 L459,687.1" stroke-width="4.01"/><path d="M462,677 L470.8,669.1" stroke-width="1.94"/><path d="M457.6,681.6 L461.1,674.5 L464.7,678.1 Z" fill="#000" stroke="none"/><text class="d" x="467.3" y="684.3" font-size="10" textLength="7.6" lengthAdjust="spacingAndGlyphs">Б</text><text class="d" x="425" y="601.7" font-size="9" text-anchor="middle" textLength="15.5" lengthAdjust="spacingAndGlyphs" transform="rotate(-50 425 598.5)">1,25</text><path d="M414,611 L432,607.3" stroke-width="1.48"/><path d="M414,611 L418,601" stroke-width="1.48"/><text class="d" x="448.3" y="600.2" font-size="9" text-anchor="middle" textLength="15.5" lengthAdjust="spacingAndGlyphs" transform="rotate(-65 448.3 597)">1,25</text><path d="M451,605.2 L461.2,605.7 L458.5,589.8" stroke-width="1.48"/><text class="d" x="488" y="595.0" font-size="9" text-anchor="middle" textLength="14.5" lengthAdjust="spacingAndGlyphs" transform="rotate(-65 488 591.8)">1,25</text><path d="M488.4,599.8 L496.9,604.6 L499,588" stroke-width="1.48"/><text class="d" x="464.6" y="550" font-size="6.5" textLength="20" lengthAdjust="spacingAndGlyphs">Rz40</text><path d="M475.7,552.7 L480,560.1 L488.4,546.4" stroke-width="2.05"/><path d="M493.8,546.4 Q490.5,553.5 492.2,560.6" stroke-width="1.94"/><path d="M495.8,553.8 L500,560 L509.6,547.4" stroke-width="2.05"/><path d="M510.8,546.4 Q513.5,553.5 508,561.2" stroke-width="1.94"/><path d="M223.7,715.2 V825" stroke-width="1.36"/><path d="M349.2,715.2 V825" stroke-width="1.36"/><path d="M223.7,720.5 H349.2" stroke-width="1.59"/><circle cx="228" cy="720.5" r="1.85" fill="#000" stroke="none"/><circle cx="344.9" cy="720.5" r="1.85" fill="#000" stroke="none"/><text class="d" x="282.3" y="717.6" font-size="11" textLength="6" lengthAdjust="spacingAndGlyphs">L</text><text class="d" x="287.2" y="719.2" font-size="7.5" textLength="3" lengthAdjust="spacingAndGlyphs">1</text><rect x="262.4" y="728.4" width="45.3" height="12" stroke-width="1.9"/><path d="M274.0,728.4 V740.4" stroke-width="1.94"/><path d="M265.29999999999995,738.6 L269.7,730.0" stroke-width="2.05"/><path d="M268.59999999999997,738.6 L272.79999999999995,730.0" stroke-width="2.05"/><text class="d" x="276.4" y="737.8" font-size="9" textLength="28.6" lengthAdjust="spacingAndGlyphs">0,1/100</text><path d="M262.4,734.4 H247.6 V768" stroke-width="1.36"/><circle cx="247.6" cy="766.1" r="1.5" fill="#000" stroke="none"/><path d="M307.6,734.4 H325.6 V768" stroke-width="1.36"/><circle cx="325.6" cy="767.2" r="1.5" fill="#000" stroke="none"/><path d="M284.7,740.5 V766" stroke-width="1.71"/><path d="M279.8,772.6 L284.7,765.4 L289.6,772.6 Z" fill="#000" stroke="none"/><path d="M204.8,773 H368" stroke-width="1.48"/><path d="M224,772.6 H254.2" stroke-width="2.40"/><path d="M319,772.7 H349.2" stroke-width="2.40"/><path d="M224.2,754.3 H215.3 L210.4,759.7 V785.3 L215.3,790.2 H224.2" stroke-width="2.28"/><path d="M223.7,754.3 V790.2" stroke-width="2.52"/><path d="M216.8,756 V788.5" stroke-width="1.94"/><path d="M213.4,760 V784" stroke-width="1.25"/><path d="M224,758.8 H254.2" stroke-width="2.28"/><path d="M224,785.8 H254.2" stroke-width="2.28"/><path d="M254.7,754.3 V790.2" stroke-width="2.52"/><path d="M254.2,754.3 H263.5" stroke-width="2.28"/><path d="M254.2,790.2 H263.5" stroke-width="2.28"/><path d="M256.2,758.5 Q261,763.5 256.2,768.5" stroke-width="2.40"/><path d="M256.2,777.5 Q261,782.5 256.2,787.5" stroke-width="2.40"/><path d="M263.4,751.5 V792.8" stroke-width="2.52"/><path d="M262.4,752.2 H309.5" stroke-width="2.52"/><path d="M308.5,751.5 V792.6" stroke-width="2.52"/><path d="M262.4,792 H309.5" stroke-width="2.52"/><path d="M308.5,755 H319.1" stroke-width="2.28"/><path d="M308.5,789.5 H319.1" stroke-width="2.28"/><path d="M318.5,755 V789.5" stroke-width="2.52"/><path d="M316.6,758.5 Q311.8,763.5 316.6,768.5" stroke-width="2.40"/><path d="M316.6,777.5 Q311.8,782.5 316.6,787.5" stroke-width="2.40"/><path d="M319,758.8 H349.2" stroke-width="2.28"/><path d="M319,785.8 H349.2" stroke-width="2.28"/><path d="M349.2,754.5 V789.5" stroke-width="2.52"/><path d="M350.5,758.5 Q355,763.5 350.5,768.5" stroke-width="2.40"/><path d="M350.5,777.5 Q355,782.5 350.5,787.5" stroke-width="2.40"/><path d="M349.2,754.5 H357.7 L361.4,758.2 V785.2 L357.7,789.5 H349.2" stroke-width="2.28"/><path d="M358,759 V785.5" stroke-width="1.82"/><text class="d" x="225.6" y="805.6" font-size="10.5" textLength="12" lengthAdjust="spacingAndGlyphs">R5</text><text class="d" x="239" y="805.6" font-size="8" textLength="16" lengthAdjust="spacingAndGlyphs">max</text><path d="M225.6,807.2 H255.3 L262.5,791.5" stroke-width="1.36"/><text class="d" x="317.7" y="805" font-size="10.5" textLength="12" lengthAdjust="spacingAndGlyphs">R5</text><text class="d" x="331" y="805" font-size="8" textLength="15.5" lengthAdjust="spacingAndGlyphs">max</text><path d="M309.6,791.5 L316,806.6 H346.5" stroke-width="1.36"/><path d="M263.3,792 V825" stroke-width="1.36"/><path d="M308.8,792 V825" stroke-width="1.36"/><path d="M222.4,821.8 H263.3" stroke-width="1.59"/><circle cx="228" cy="821.8" r="1.85" fill="#000" stroke="none"/><circle cx="259.3" cy="821.8" r="1.85" fill="#000" stroke="none"/><path d="M308.8,821.8 H349.2" stroke-width="1.59"/><circle cx="312.9" cy="821.8" r="1.85" fill="#000" stroke="none"/><circle cx="344.9" cy="821.8" r="1.85" fill="#000" stroke="none"/><text class="d" x="239.5" y="819.4" font-size="11" textLength="4" lengthAdjust="spacingAndGlyphs">l</text><text class="d" x="243.5" y="820.8" font-size="7.5" textLength="3.2" lengthAdjust="spacingAndGlyphs">1</text><text class="d" x="326.7" y="819.4" font-size="11" textLength="4" lengthAdjust="spacingAndGlyphs">l</text><text class="d" x="330.7" y="820.8" font-size="7.5" textLength="3.2" lengthAdjust="spacingAndGlyphs">1</text></g>
</svg>
</body></html>
